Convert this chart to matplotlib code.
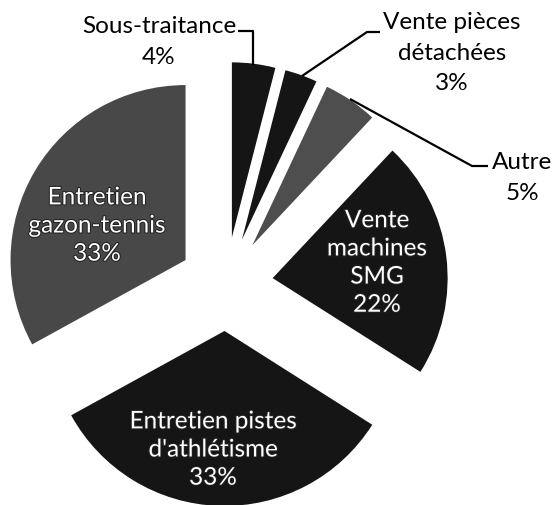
import matplotlib
matplotlib.use("Agg")
import matplotlib.pyplot as plt
import matplotlib.patheffects as pe

# donnees du camembert (sens horaire depuis midi)
categories = ["Sous-traitance", "Vente pièces\ndétachées", "Autre",
              "Vente\nmachines\nSMG", "Entretien pistes\nd'athlétisme",
              "Entretien\ngazon-tennis"]
parts = [4, 3, 5, 22, 33, 33]
couleurs = ["#151515", "#151515", "#4e4e4e", "#151515", "#151515", "#484848"]

plt.rcParams['font.family'] = ['Lato', 'DejaVu Sans']

W, H = 552, 506
CX, CY, R = 226, 285, 175   # centre et rayon en pixels


def px(x, y):
    # pixels de l'image -> unites du camembert (rayon = 1)
    return (x - CX) / R, (CY - y) / R


fig = plt.figure(figsize=(W / 100, H / 100), dpi=100)
ax = fig.add_axes([0, 0, 1, 1])
ax.pie(parts, colors=couleurs, startangle=90, counterclock=False,
       radius=1, explode=[47 / R] * len(parts),
       wedgeprops=dict(linewidth=0))
x0, y0 = px(0, H)
x1, y1 = px(W, 0)
ax.set_xlim(x0, x1)
ax.set_ylim(y0, y1)
ax.axis('off')

labels = [c + "\n" + str(p) + "%" for c, p in zip(categories, parts)]
fs = 17.5

# etiquettes exterieures avec lignes de rappel
ext = {0: (159, 42), 1: (452, 53), 2: (522, 178)}
for i, (x, y) in ext.items():
    ax.text(*px(x, y), labels[i], ha='center', va='center', fontsize=fs,
            color='black', linespacing=1.55, multialignment='center')

lignes = [[(238, 32), (253, 32), (253, 66)],
          [(380, 33), (367, 33), (302, 77)],
          [(350, 100), (472, 167), (488, 167)]]
for l in lignes:
    xs, ys = zip(*[px(a, b) for a, b in l])
    ax.plot(xs, ys, color='black', lw=1.6, solid_capstyle='butt')

# etiquettes interieures
inte = {3: (377, 264), 4: (213, 451), 5: (97, 227)}
for i, (x, y) in inte.items():
    ax.text(*px(x, y), labels[i], ha='center', va='center', fontsize=fs,
            color='white', linespacing=1.42, multialignment='center',
            path_effects=[pe.withStroke(linewidth=1.5, foreground='#222222')])

fig.savefig('out.png', dpi=100)
